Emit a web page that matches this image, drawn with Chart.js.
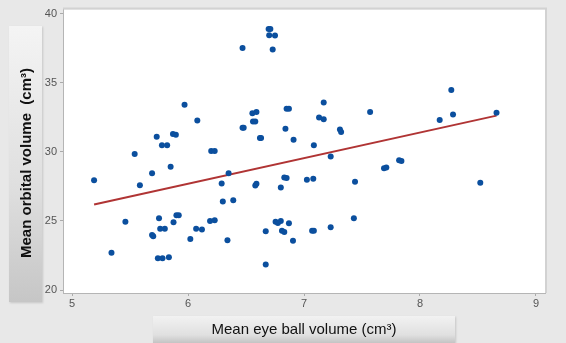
<!DOCTYPE html>
<html>
<head>
<meta charset="utf-8">
<script src="https://cdn.jsdelivr.net/npm/chart.js@4"></script>
<style>
  html, body { margin: 0; padding: 0; background: #e8e8e8; }
  #wrap { position: relative; width: 566px; height: 343px; overflow: hidden; background: #e8e8e8; }
  canvas { position: absolute; left: 0; top: 0; }
  .ybox { position: absolute; left: 9px; top: 26px; width: 33px; height: 276px;
          background: linear-gradient(to bottom, #f4f4f4 0%, #dedede 60%, #c6c6c6 100%);
          box-shadow: 1px 1px 2px rgba(0,0,0,0.15); }
  .ytitle { position: absolute; left: 25px; top: 163px; transform: translate(-50%, -50%) rotate(-90deg);
            white-space: pre; font-family: "Liberation Sans", Arial, sans-serif; font-weight: bold;
            font-size: 15px; color: #111; }
  .xbox { position: absolute; left: 153px; top: 316px; width: 302px; height: 27px;
          background: linear-gradient(to bottom, #f2f2f2 0%, #e0e0e0 70%, #c4c4c4 100%);
          box-shadow: 1px 1px 2px rgba(0,0,0,0.15); }
  .xtitle { position: absolute; left: 304px; top: 328px; transform: translate(-50%, -50%);
            white-space: pre; font-family: "Liberation Sans", Arial, sans-serif;
            font-size: 15px; color: #111; }
</style>
</head>
<body>
<div id="wrap">
  <canvas id="c" width="566" height="343"></canvas>
  <div class="ybox"></div>
  <div class="ytitle">Mean orbital volume  (cm³)</div>
  <div class="xbox"></div>
  <div class="xtitle">Mean eye ball volume (cm³)</div>
</div>
<script>
// Mean eye ball volume (cm³) of each subject
const eyeBallVolume = [
  5.19, 5.34, 5.46, 5.54, 5.585, 5.69, 5.69, 5.70, 5.73, 5.75,
  5.76, 5.80, 5.74, 5.78, 5.775, 5.82, 5.835, 5.85, 5.87, 5.895,
  5.875, 5.90, 5.92, 5.97, 6.02, 6.07, 6.08, 6.12, 6.19, 6.23,
  6.20, 6.23, 6.29, 6.30, 6.34, 6.35, 6.39, 6.47, 6.47, 6.48,
  6.555, 6.59, 6.56, 6.58, 6.58, 6.59, 6.62, 6.63, 6.67, 6.67,
  6.695, 6.71, 6.70, 6.75, 6.73, 6.755, 6.775, 6.80, 6.81, 6.83,
  6.80, 6.83, 6.85, 6.84, 6.85, 6.87, 6.87, 6.905, 6.91, 7.025,
  7.08, 7.07, 7.085, 7.085, 7.13, 7.17, 7.17, 7.23, 7.23, 7.31,
  7.32, 7.43, 7.44, 7.57, 7.69, 7.71, 7.82, 7.84, 8.17, 8.27,
  8.285, 8.52, 8.66
];
// Mean orbital volume (cm³) of each subject
const orbitalVolume = [
  27.95, 22.71, 24.95, 29.84, 27.59, 28.45, 23.98, 23.90, 31.09, 25.19,
  24.43, 24.43, 22.31, 22.31, 30.48, 30.48, 22.38, 28.93, 31.29, 31.24,
  24.90, 25.41, 25.41, 33.40, 23.69, 24.43, 32.26, 24.38, 25.00, 25.05,
  30.07, 30.07, 27.71, 26.41, 23.60, 28.45, 26.50, 37.52, 31.74, 31.74,
  32.80, 32.88, 32.19, 32.19, 27.57, 27.69, 31.00, 31.00, 24.26, 21.86,
  38.88, 38.88, 38.43, 38.41, 37.40, 24.95, 24.86, 25.00, 24.29, 24.21,
  27.43, 28.14, 28.10, 31.67, 33.12, 33.12, 24.83, 23.57, 30.88, 27.98,
  28.05, 24.29, 24.29, 30.48, 32.48, 32.36, 33.57, 29.66, 24.55, 31.62,
  31.43, 25.19, 27.83, 32.88, 28.81, 28.86, 29.40, 29.33, 32.31, 34.48,
  32.71, 27.76, 32.83
];
// Fitted line end points
const fitX = [5.19, 8.66];
const fitY = [26.19, 32.62];
// Axis ticks
const xTicks = [5, 6, 7, 8, 9];
const yTicks = [20, 25, 30, 35, 40];

const points = eyeBallVolume.map((x, i) => ({ x: x, y: orbitalVolume[i] }));
const fitLine = fitX.map((x, i) => ({ x: x, y: fitY[i] }));

const plotFrame = {
  id: 'plotFrame',
  beforeDraw(chart) {
    const { ctx, chartArea: a } = chart;
    ctx.save();
    ctx.fillStyle = '#ffffff';
    ctx.fillRect(a.left, a.top, a.right - a.left, a.bottom - a.top);
    ctx.restore();
  },
  afterDraw(chart) {
    const { ctx, chartArea: a } = chart;
    ctx.save();
    ctx.strokeStyle = '#d2d2d2';
    ctx.lineWidth = 2;
    ctx.beginPath();
    ctx.moveTo(a.left, a.top - 1);
    ctx.lineTo(a.right + 1, a.top - 1);
    ctx.lineTo(a.right + 1, a.bottom);
    ctx.stroke();
    ctx.restore();
  }
};

const tickFont = { family: '"Liberation Sans", Arial, sans-serif', size: 11 };

new Chart(document.getElementById('c'), {
  type: 'scatter',
  data: {
    datasets: [
      {
        label: 'Subjects',
        data: points,
        backgroundColor: '#0b4f9e',
        borderColor: '#0b4f9e',
        pointRadius: 3,
        pointBorderWidth: 0,
        order: 1
      },
      {
        label: 'Fit',
        type: 'line',
        data: fitLine,
        borderColor: '#b03434',
        borderWidth: 2,
        pointRadius: 0,
        fill: false,
        order: 2
      }
    ]
  },
  options: {
    responsive: false,
    animation: false,
    devicePixelRatio: 1,
    layout: { padding: { top: 6, right: 21, left: 0, bottom: 0 } },
    plugins: { legend: { display: false }, tooltip: { enabled: false } },
    scales: {
      x: {
        type: 'linear',
        min: 4.922,
        max: 9.078,
        afterBuildTicks(scale) { scale.ticks = xTicks.map(v => ({ value: v })); },
        afterFit(scale) { scale.height = 50; },
        ticks: { font: tickFont, color: '#555555', padding: 1 },
        grid: { display: true, drawOnChartArea: false, drawTicks: true, tickLength: 3, color: '#aaaaaa' },
        border: { display: true, color: '#b5b5b5', width: 1 }
      },
      y: {
        type: 'linear',
        min: 19.79,
        max: 40.29,
        afterBuildTicks(scale) { scale.ticks = yTicks.map(v => ({ value: v })); },
        afterFit(scale) { scale.width = 63; },
        ticks: { font: tickFont, color: '#555555', padding: 3 },
        grid: { display: true, drawOnChartArea: false, drawTicks: true, tickLength: 3, color: '#aaaaaa' },
        border: { display: true, color: '#b5b5b5', width: 1 }
      }
    }
  },
  plugins: [plotFrame]
});
</script>
</body>
</html>
